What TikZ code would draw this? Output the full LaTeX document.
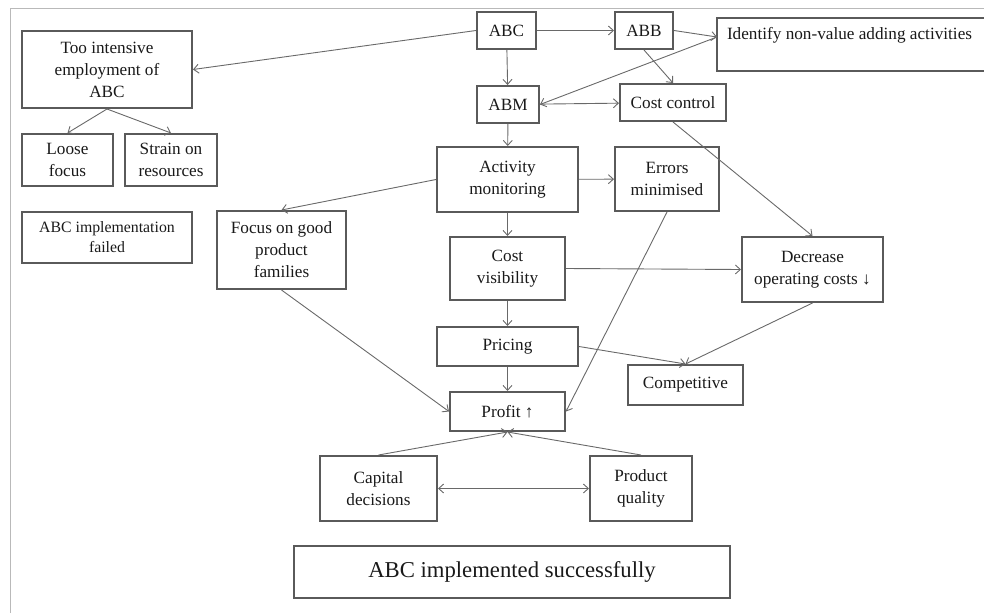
\documentclass[tikz,border=0pt]{standalone}
\usepackage{fontspec}
\setmainfont{Liberation Serif}
\usetikzlibrary{arrows.meta}
\definecolor{boxgray}{RGB}{90,90,90}
\definecolor{linegray}{RGB}{105,105,105}
\definecolor{framegray}{RGB}{185,185,185}
\definecolor{txtgray}{RGB}{25,25,25}
\tikzstyle{blk} = [draw=boxgray, line width=2pt, align=center, inner sep=1pt, text=txtgray, font={\fontsize{17.2}{22}\selectfont}]
\tikzstyle{lnk} = [draw=linegray, line width=0.9pt]

\begin{document}
\begin{tikzpicture}[x=1pt, y=-1pt, >={Straight Barb[length=5pt,width=9pt]}]
    \useasboundingbox (0,0) rectangle (984,613);
    \draw[framegray, line width=1pt] (10,613) -- (10,8.5) -- (984,8.5);
    \node[blk, minimum width=170, minimum height=77](tie) at (107,69.5){Too intensive\\employment of\\ABC};
    \node[blk, minimum width=91, minimum height=52](loose) at (67.5,160){Loose\\focus};
    \node[blk, minimum width=92, minimum height=52](strain) at (171,160){Strain on\\resources};
    \node[blk, minimum width=170, minimum height=51, font={\fontsize{15.8}{20}\selectfont}](failed) at (107,237.5){ABC implementation\\failed};
    \node[blk, minimum width=129, minimum height=78](focus) at (281.5,250){Focus on good\\product\\families};
    \node[blk, minimum width=59, minimum height=37](abc) at (506.5,30.5){ABC};
    \node[blk, minimum width=58, minimum height=37](abb) at (644,30.5){ABB};
    \node[blk, draw=none, minimum width=266, minimum height=51, align=left, inner xsep=9pt, inner ysep=3pt](ident) at (851,44.5){\makebox[248pt][l]{Identify non-value adding activities}\\\mbox{}};
    \draw[boxgray, line width=2pt] (ident.north east) -- (ident.north west) -- (ident.south west) -- (ident.south east);
    \node[blk, minimum width=62, minimum height=37](abm) at (508,104.5){ABM};
    \node[blk, minimum width=106, minimum height=37](cc) at (673,102.5){Cost control};
    \node[blk, minimum width=141, minimum height=65](am) at (507.5,179.5){Activity\\monitoring};
    \node[blk, minimum width=104, minimum height=64](em) at (667,179){Errors\\minimised};
    \node[blk, minimum width=115, minimum height=63](cv) at (507.5,268.5){Cost\\visibility};
    \node[blk, minimum width=141, minimum height=65](doc) at (812.5,269.5){Decrease\\operating costs ↓};
    \node[blk, minimum width=141, minimum height=39](pricing) at (507.5,346.5){Pricing};
    \node[blk, minimum width=115, minimum height=40](comp) at (685.5,385){Competitive};
    \node[blk, minimum width=115, minimum height=39](profit) at (507.5,411.5){Profit ↑};
    \node[blk, minimum width=117, minimum height=65](capital) at (378.5,488.5){Capital\\decisions};
    \node[blk, minimum width=102, minimum height=65](quality) at (641,488.5){Product\\quality};
    \node[blk, minimum width=436, minimum height=52, font={\fontsize{22.7}{26}\selectfont}](success) at (512,572){ABC implemented successfully};
    % links
    \draw[lnk,->](abc.west)--(tie.east);
    \draw[lnk,->](abc)--(abb);
    \draw[lnk,->](abc)--(abm);
    \draw[lnk,->](abb.east)--([yshift=7.5pt]ident.west);
    \draw[lnk,->]([yshift=7.5pt]ident.west)--(abm.east);
    \draw[lnk,->](abb.south)--(cc.north);
    \draw[lnk,->](abm)--(cc);
    \draw[lnk,->](abm)--(am);
    \draw[lnk,->](cc.south)--(doc.north);
    \draw[lnk,->](am)--(em);
    \draw[lnk,->](am.west)--(focus.north);
    \draw[lnk,->](am)--(cv);
    \draw[lnk,->](cv.east)--(doc.west);
    \draw[lnk,->](cv)--(pricing);
    \draw[lnk,->](em.south)--(profit.east);
    \draw[lnk,->](focus.south)--(profit.west);
    \draw[lnk,->](pricing.east)--(comp.north);
    \draw[lnk,->](doc.south)--(comp.north);
    \draw[lnk,->](pricing)--(profit);
    \draw[lnk,->](capital.north)--(profit.south);
    \draw[lnk,->](quality.north)--(profit.south);
    \draw[lnk,<->](capital)--(quality);
    \draw[lnk,->](tie.south)--(loose.north);
    \draw[lnk,->](tie.south)--(strain.north);
  \end{tikzpicture}
\end{document}
